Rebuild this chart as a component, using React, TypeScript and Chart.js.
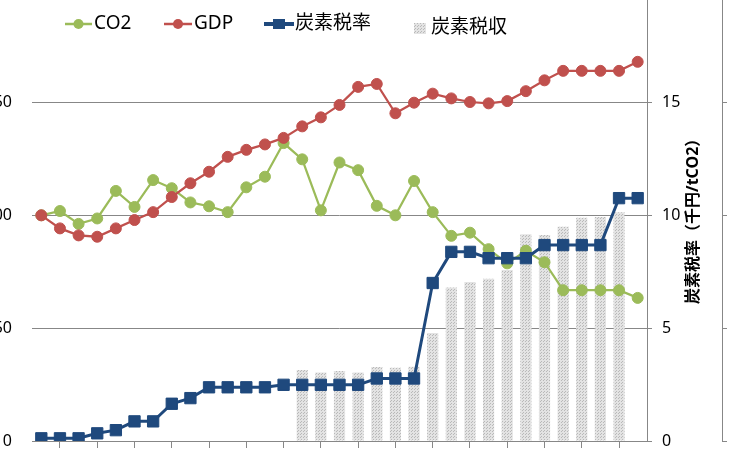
import { useEffect, useRef } from "react";
import { Chart, registerables } from "chart.js";

Chart.register(...registerables);

// data (1990 = 100 for CO2 / GDP, tax rate in 千円/tCO2)
const years = [
  "1990", "1991", "1992", "1993", "1994", "1995", "1996", "1997", "1998", "1999", "2000",
  "2001", "2002", "2003", "2004", "2005", "2006", "2007", "2008", "2009", "2010", "2011",
  "2012", "2013", "2014", "2015", "2016", "2017", "2018", "2019", "2020", "2021", "2022",
];
const co2 = [
  100, 101.9, 96.2, 98.6, 110.8, 103.7, 115.6, 112, 105.7, 104, 101.4,
  112.4, 117.1, 132, 124.8, 102.2, 123.4, 120, 104.2, 100, 115.2, 101.4,
  90.9, 92.3, 85, 78.7, 84.3, 79.2, 66.8, 66.8, 66.8, 66.8, 63.4,
];
const gdp = [
  100, 94.2, 91.1, 90.5, 94.2, 97.9, 101.4, 108.1, 114.2, 119.3, 125.9,
  129, 131.4, 134.3, 139.4, 143.4, 148.9, 156.9, 158.2, 145.2, 149.9, 153.9,
  151.8, 150.2, 149.6, 150.6, 155, 159.8, 164, 164, 164, 164, 168,
];
const taxRate = [
  0.12, 0.12, 0.12, 0.34, 0.48, 0.87, 0.87, 1.65, 1.9, 2.38, 2.38,
  2.38, 2.38, 2.49, 2.49, 2.49, 2.49, 2.49, 2.77, 2.77, 2.77, 7.0,
  8.38, 8.38, 8.1, 8.1, 8.1, 8.68, 8.68, 8.68, 8.68, 10.76, 10.76,
];
const taxRevenue = [
  null, null, null, null, null, null, null, null, null, null, null,
  null, null, null, 315, 303, 310, 303, 328, 325, 329, 478,
  680, 704, 719, 758, 916, 913, 949, 989, 993, 1014, null,
];

const FONT = "'Noto Sans', 'Noto Sans CJK JP', sans-serif";
const GRID = "#878787";
// the chart is bigger than the window; this is where the window starts on the canvas
const OFF_X = 60;
const OFF_Y = 40;

function makePattern() {
  const c = document.createElement("canvas");
  c.width = 3;
  c.height = 3;
  const g = c.getContext("2d") as CanvasRenderingContext2D;
  g.fillStyle = "#e3e3e3";
  g.fillRect(0, 0, 3, 3);
  g.fillStyle = "#b9b9b9";
  g.fillRect(0, 0, 1, 1);
  g.fillRect(1, 2, 1, 1);
  return g.createPattern(c, "repeat") as CanvasPattern;
}

export default function App() {
  const chartRef = useRef<HTMLCanvasElement>(null);
  const chartInstanceRef = useRef<Chart | null>(null);

  useEffect(() => {
    if (!chartRef.current) return;
    const context = chartRef.current.getContext("2d") as CanvasRenderingContext2D;
    if (chartInstanceRef.current) chartInstanceRef.current.destroy();

    const pattern = makePattern();

    // legend drawn by hand, Excel style (overlapping the plot)
    const legendPlugin = {
      id: "manualLegend",
      afterDraw(chart: Chart) {
        const ctx = chart.ctx;
        const ds = chart.data.datasets as any[];
        ctx.save();
        ctx.font = `19px ${FONT}`;
        ctx.textBaseline = "middle";
        ctx.fillStyle = "#000";
        const lineItem = (i: number, x0: number, x1: number, y: number, tx: number) => {
          const d = ds[i];
          ctx.strokeStyle = d.borderColor;
          ctx.lineWidth = i === 2 ? 4 : 2.5;
          ctx.beginPath();
          ctx.moveTo(OFF_X + x0, OFF_Y + y);
          ctx.lineTo(OFF_X + x1, OFF_Y + y);
          ctx.stroke();
          const cx = OFF_X + (x0 + x1) / 2;
          ctx.fillStyle = d.borderColor;
          if (d.pointStyle === "rect") {
            ctx.fillRect(cx - 6, OFF_Y + y - 5, 12, 10);
          } else {
            ctx.beginPath();
            ctx.arc(cx, OFF_Y + y, 5, 0, Math.PI * 2);
            ctx.fill();
          }
          ctx.fillStyle = "#000";
          ctx.fillText(d.label, OFF_X + tx, OFF_Y + y);
        };
        lineItem(0, 65, 92, 24, 94);
        lineItem(1, 164, 192, 24, 194);
        lineItem(2, 264, 294, 24, 295);
        ctx.fillStyle = pattern;
        ctx.fillRect(OFF_X + 414, OFF_Y + 23, 12, 11);
        ctx.fillStyle = "#000";
        ctx.fillText(ds[3].label, OFF_X + 431, OFF_Y + 28);
        ctx.restore();
      },
    };

    // right axis title reads bottom-to-top
    const rightTitlePlugin = {
      id: "rightTitle",
      afterDraw(chart: Chart) {
        const ctx = chart.ctx;
        const area = chart.chartArea;
        ctx.save();
        ctx.translate(OFF_X + 693, (area.top + area.bottom) / 2 + 2);
        ctx.rotate(-Math.PI / 2);
        ctx.font = `bold 16px ${FONT}`;
        ctx.fillStyle = "#000";
        ctx.textAlign = "center";
        ctx.textBaseline = "middle";
        ctx.fillText("炭素税率（千円/tCO2）", 0, 0);
        ctx.restore();
      },
    };

    chartInstanceRef.current = new Chart(context, {
      type: "bar",
      data: {
        labels: years,
        datasets: [
          {
            type: "line",
            label: "CO2",
            data: co2,
            yAxisID: "y",
            borderColor: "#9BBB59",
            backgroundColor: "#9BBB59",
            borderWidth: 2.25,
            pointStyle: "circle",
            pointRadius: 5.5,
            pointBorderWidth: 1,
            order: 2,
          },
          {
            type: "line",
            label: "GDP",
            data: gdp,
            yAxisID: "y",
            borderColor: "#C0504D",
            backgroundColor: "#C0504D",
            borderWidth: 2.25,
            pointStyle: "circle",
            pointRadius: 5.5,
            pointBorderWidth: 1,
            order: 1,
          },
          {
            type: "line",
            label: "炭素税率",
            data: taxRate,
            yAxisID: "y1",
            borderColor: "#1F497D",
            backgroundColor: "#1F497D",
            borderWidth: 3,
            pointStyle: "rect",
            pointRadius: 8,
            pointBorderWidth: 1,
            order: 0,
          },
          {
            type: "bar",
            label: "炭素税収",
            data: taxRevenue,
            yAxisID: "y2",
            backgroundColor: pattern,
            barPercentage: 0.6,
            categoryPercentage: 1,
            order: 3,
          },
        ],
      } as any,
      options: {
        animation: false,
        responsive: false,
        layout: { padding: { top: 24, right: 7, left: 0, bottom: 0 } },
        plugins: {
          legend: { display: false },
          tooltip: { enabled: false },
        },
        scales: {
          x: {
            type: "category",
            offset: true,
            grid: {
              display: true,
              drawOnChartArea: false,
              drawTicks: true,
              tickLength: 7,
              offset: true,
              color: GRID,
            },
            border: { display: true, color: GRID },
            ticks: { font: { family: FONT, size: 14 }, color: "#000" },
            afterFit: (s: any) => {
              s.height = 49;
            },
          },
          y: {
            position: "left",
            min: 0,
            max: 200,
            ticks: { stepSize: 50, padding: 20, font: { family: FONT, size: 16 }, color: "#000" },
            grid: { color: GRID, drawTicks: false },
            border: { display: false },
            afterFit: (s: any) => {
              s.width = 92;
            },
          },
          y1: {
            position: "right",
            weight: 0,
            min: 0,
            max: 20,
            ticks: { stepSize: 5, padding: 10, font: { family: FONT, size: 16 }, color: "#000" },
            grid: { drawOnChartArea: false, drawTicks: true, tickLength: 5, color: GRID },
            border: { display: true, color: GRID },
            afterFit: (s: any) => {
              s.width = 75;
            },
          },
          y2: {
            position: "right",
            weight: 1,
            min: 0,
            max: 2000,
            ticks: { stepSize: 500, padding: 8, font: { family: FONT, size: 16 }, color: "#000" },
            grid: { drawOnChartArea: false, drawTicks: true, tickLength: 5, color: GRID },
            border: { display: true, color: GRID },
            afterFit: (s: any) => {
              s.width = 60;
            },
          },
        },
      } as any,
      plugins: [legendPlugin, rightTitlePlugin],
    });

    return () => {
      if (chartInstanceRef.current) {
        chartInstanceRef.current.destroy();
        chartInstanceRef.current = null;
      }
    };
  }, []);

  return (
    <div
      style={{
        position: "absolute",
        left: 0,
        top: 0,
        width: 729,
        height: 450,
        overflow: "hidden",
        background: "#fff",
      }}
    >
      <div style={{ position: "absolute", left: -OFF_X, top: -OFF_Y, width: 849, height: 530 }}>
        <canvas ref={chartRef} width={849} height={530} style={{ width: 849, height: 530 }}></canvas>
      </div>
    </div>
  );
}
